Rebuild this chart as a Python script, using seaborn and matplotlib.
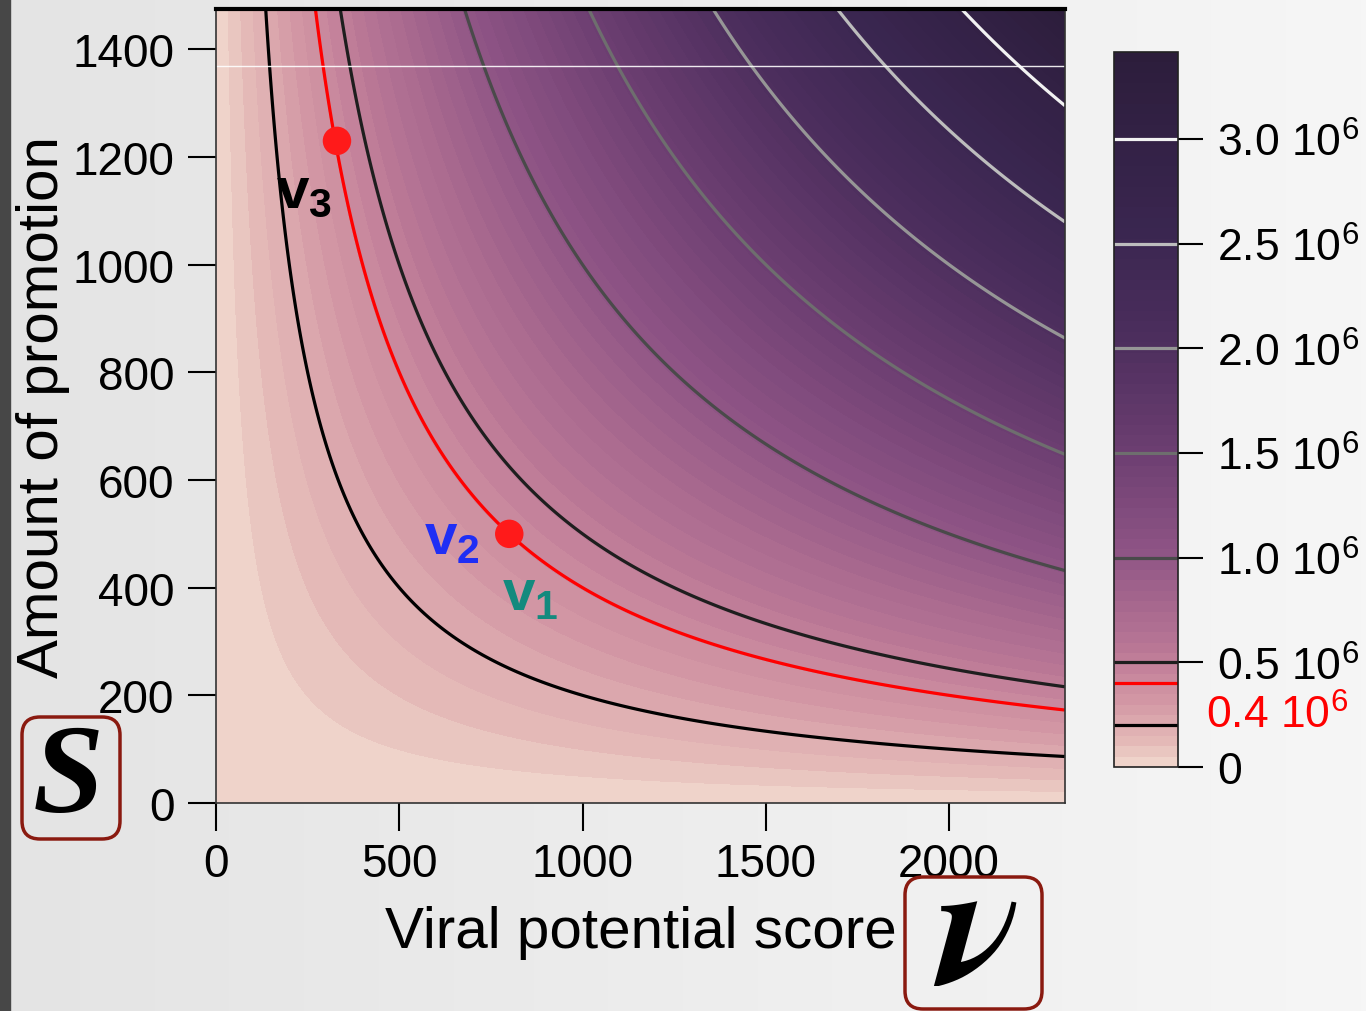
import numpy as np
import matplotlib
matplotlib.use("Agg")
import matplotlib.pyplot as plt
import seaborn as sns
from matplotlib.colors import LinearSegmentedColormap
from matplotlib.patches import FancyBboxPatch, Rectangle

# ---------------- data ----------------
v_range = [0, 2316]          # viral potential score axis
s_range = [0, 1475]          # amount of promotion axis
x_ticks = [0, 500, 1000, 1500, 2000]
y_ticks = [0, 200, 400, 600, 800, 1000, 1200, 1400]
contour_levels = [0.2e6, 0.4e6, 0.5e6, 1.0e6, 1.5e6, 2.0e6, 2.5e6, 3.0e6]
contour_colors = ["#000000", "#ff0000", "#1e1e1e", "#4a4a4a", "#6e6e6e", "#969696", "#bdbdbd", "#f2f2f2"]
cbar_ticks = [0, 0.5e6, 1.0e6, 1.5e6, 2.0e6, 2.5e6, 3.0e6]
cbar_labels = ["0", "0.5 10$^6$", "1.0 10$^6$", "1.5 10$^6$", "2.0 10$^6$", "2.5 10$^6$", "3.0 10$^6$"]
points_v = [330, 800]
points_s = [1230, 500]
white_line_s = 1370

cmap_nodes = [0.0, 0.03, 0.07, 0.12, 0.16, 0.3, 0.45, 0.6, 0.75, 1.0]
cmap_cols = ["#f0d6cc", "#e6bdb9", "#d9a2aa", "#ca8a9e", "#bb7896", "#8e5485", "#6a3d70", "#4c2e5d", "#3a2650", "#2c1d3b"]

sns.set_theme(style="ticks")
plt.rcParams["font.family"] = ["Liberation Sans", "DejaVu Sans"]
plt.rcParams["mathtext.fontset"] = "custom"
plt.rcParams["mathtext.rm"] = "Liberation Sans"
plt.rcParams["mathtext.bf"] = "Liberation Sans:bold"
plt.rcParams["mathtext.it"] = "Liberation Sans:italic"
plt.rcParams["text.color"] = "black"
plt.rcParams["axes.labelcolor"] = "black"
plt.rcParams["xtick.color"] = "black"
plt.rcParams["ytick.color"] = "black"

fig = plt.figure(figsize=(13.66, 10.12), dpi=100)

# background gradient
bg = fig.add_axes([0, 0, 1, 1], zorder=-10)
grad = np.linspace(0, 1, 256)[None, :]
bg.imshow(grad, aspect="auto", cmap=LinearSegmentedColormap.from_list("bg", ["#e4e4e4", "#f6f6f6"]),
          extent=[0, 1, 0, 1])
bg.add_patch(Rectangle((0, 0), 10 / 1366, 1, color="#474747"))
bg.set_xlim(0, 1); bg.set_ylim(0, 1)
bg.axis("off")

cmap = LinearSegmentedColormap.from_list("pm", list(zip(cmap_nodes, cmap_cols)))

ax = fig.add_axes([216 / 1366, 1 - 804 / 1012, (1065 - 216) / 1366, (804 - 10) / 1012])
v = np.linspace(v_range[0], v_range[1], 500)
s = np.linspace(s_range[0], s_range[1], 500)
V, S = np.meshgrid(v, s)
Z = V * S
zmax = v_range[1] * s_range[1]
cf = ax.contourf(V, S, Z, levels=np.linspace(0, zmax, 70), cmap=cmap, vmin=0, vmax=zmax)
cs = ax.contour(V, S, Z, levels=contour_levels, colors=contour_colors, linewidths=2.3)
ax.axhline(white_line_s, color="white", lw=1.0, alpha=0.9)

sns.scatterplot(x=points_v, y=points_s, ax=ax, color="#ff1a1a", s=420, edgecolor="none", zorder=5, legend=False)

ax.text(240, 1135, r"$\mathbf{v_3}$", fontsize=42, color="black", ha="center", va="center")
ax.text(644, 492, r"$\mathbf{v_2}$", fontsize=42, color="#1f2ef5", ha="center", va="center")
ax.text(857, 389, r"$\mathbf{v_1}$", fontsize=42, color="#138a7e", ha="center", va="center")

ax.set_xlim(v_range)
ax.set_ylim(s_range)
ax.set_xticks(x_ticks)
ax.set_yticks(y_ticks)
ax.tick_params(axis="both", labelsize=33, length=20, width=1.5, color="black", direction="out")
ax.tick_params(axis="y", pad=10)
ax.tick_params(axis="x", pad=8)
ax.set_xlabel("Viral potential score", fontsize=42, labelpad=14)
ax.set_ylabel("Amount of promotion", fontsize=42, labelpad=2)
ax.spines["top"].set_linewidth(3)
ax.spines["top"].set_color("black")
for sp in ["left", "bottom", "right"]:
    ax.spines[sp].set_linewidth(1.2)
    ax.spines[sp].set_color("#333333")

# colorbar
cax = fig.add_axes([1114 / 1366, 1 - 768 / 1012, 64 / 1366, (768 - 53) / 1012])
cb = fig.colorbar(cf, cax=cax)
cb.add_lines(cs)
cb.set_ticks(cbar_ticks)
cb.set_ticklabels(cbar_labels)
cb.outline.set_linewidth(1.2)
cb.outline.set_edgecolor("#222222")
cax.tick_params(labelsize=32, length=18, width=1.5, color="black", pad=10)
cax.annotate("0.4 10$^6$", xy=(1, 0.25e6), xycoords=("axes fraction", "data"),
             xytext=(20, 0), textcoords="offset points", fontsize=32, color="red",
             ha="left", va="center")

# S and V boxes
def box(x0, y0, x1, y1):
    p = FancyBboxPatch((x0 / 100, (1012 - y1) / 100), (x1 - x0) / 100, (y1 - y0) / 100,
                       boxstyle="round,pad=0,rounding_size=0.18", transform=fig.dpi_scale_trans,
                       facecolor="none", edgecolor="#8a1a10", lw=2.5, zorder=20)
    fig.patches.append(p)

box(22, 718, 120, 840)
box(905, 878, 1042, 1010)
fig.text(68 / 1366, 1 - 782 / 1012, "S", fontsize=92, family="Liberation Serif", weight="bold",
         style="italic", ha="center", va="center")
fig.text(975 / 1366, 1 - 938 / 1012, r"$\boldsymbol{\nu}$", fontsize=128, math_fontfamily="stix",
         ha="center", va="center")

fig.savefig("out.png", dpi=100)
